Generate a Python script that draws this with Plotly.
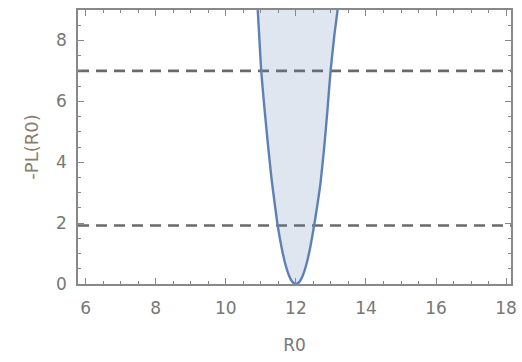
import plotly.graph_objects as go

# Profile likelihood values
r0 = [10.91, 10.96, 11.01, 11.10, 11.20, 11.30, 11.40, 11.48, 11.60, 11.70, 11.80, 11.90, 12.00,
      12.10, 12.20, 12.30, 12.40, 12.52, 12.60, 12.70, 12.80, 12.90, 12.99, 13.10, 13.19]
neg_pl = [9.0, 8.0, 7.0, 5.8, 4.6, 3.5, 2.6, 1.92, 1.15, 0.65, 0.29, 0.07, 0.0,
          0.07, 0.29, 0.65, 1.15, 1.92, 2.5, 3.3, 4.4, 5.7, 7.0, 8.2, 9.0]

# Threshold levels (dashed lines)
levels = [1.92, 7.0]

x_range = [5.78, 18.14]
y_range = [0, 9]

curve_color = "#5E81B5"
fill_color = "rgba(94,129,181,0.20)"
text_color = "#777777"
frame_color = "#888888"
font_family = "DejaVu Sans, Arial"

fig = go.Figure()

for lv in levels:
    fig.add_trace(go.Scatter(x=x_range, y=[lv, lv], mode="lines",
                             line=dict(color="#6a6a6a", width=2.6, dash="11px,7px"),
                             hoverinfo="skip", showlegend=False))

fig.add_trace(go.Scatter(x=r0, y=neg_pl, mode="lines", fill="toself",
                         fillcolor=fill_color,
                         line=dict(color=curve_color, width=2.4, shape="spline", smoothing=0.5),
                         showlegend=False))

axis_common = dict(
    showgrid=False, zeroline=False, showline=True, linecolor=frame_color, linewidth=1.5,
    mirror="allticks", ticks="inside", ticklen=6, tickwidth=1, tickcolor=frame_color,
    tickfont=dict(family=font_family, size=17, color=text_color),
    tickmode="linear", tick0=0, dtick=2,
)

fig.update_xaxes(range=x_range,
                 minor=dict(dtick=0.5, tick0=0, ticks="inside", ticklen=3.5, tickcolor=frame_color, showgrid=False),
                 ticklabelstandoff=8,
                 title=dict(text="R0", font=dict(family=font_family, size=17, color=text_color),
                            standoff=22),
                 **axis_common)
fig.update_yaxes(range=y_range,
                 minor=dict(dtick=0.5, tick0=0, ticks="inside", ticklen=3.5, tickcolor=frame_color, showgrid=False),
                 ticklabelstandoff=6,
                 title=dict(text="-PL(R0)", font=dict(family=font_family, size=18, color="#8a7d70"),
                            standoff=13),
                 **axis_common)

fig.update_layout(width=522, height=362, margin=dict(l=78, r=5, t=10, b=78),
                  plot_bgcolor="white", paper_bgcolor="white")

fig.write_html("out.html")
